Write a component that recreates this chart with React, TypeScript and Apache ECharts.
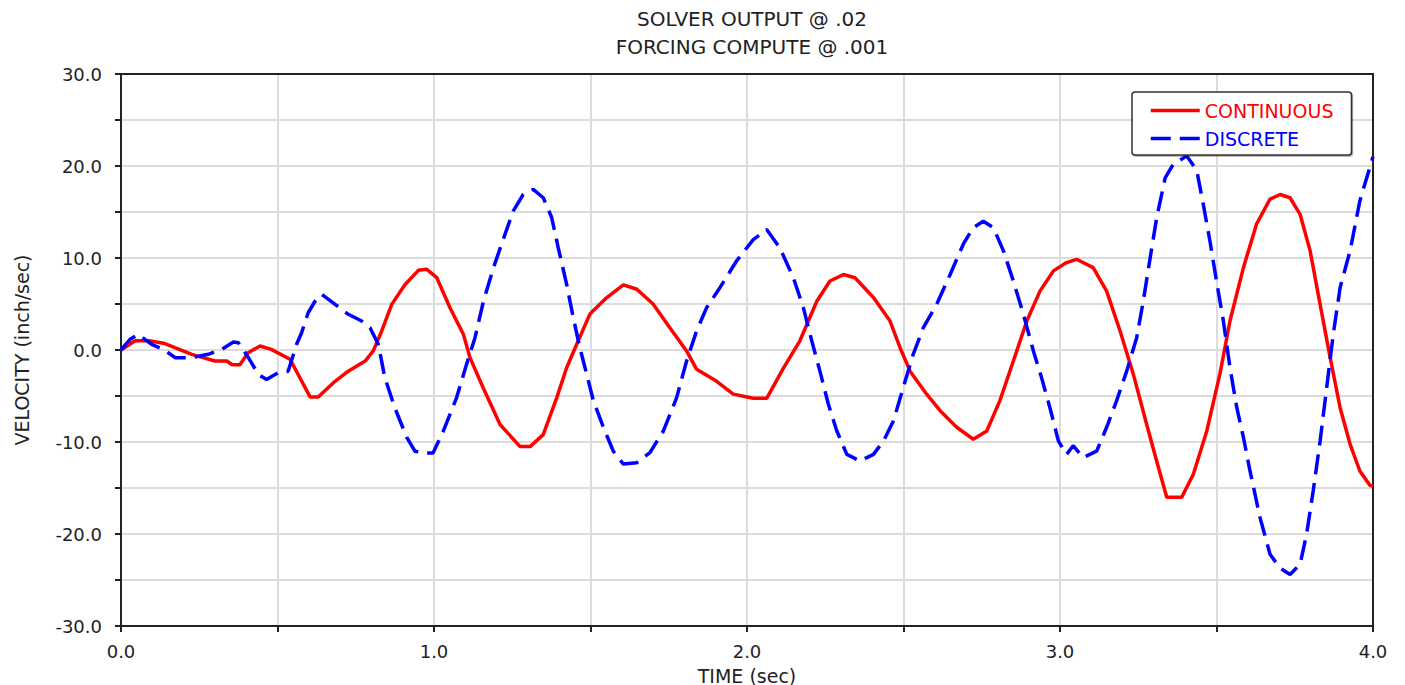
import React, { useEffect, useRef } from "react";
import * as echarts from "echarts";

const titleLines = ["SOLVER OUTPUT @ .02", "FORCING COMPUTE @ .001"];
const xName = "TIME (sec)";
const yName = "VELOCITY (inch/sec)";
const seriesNames = ["CONTINUOUS", "DISCRETE"];
const seriesColors = ["#ff0000", "#0000ff"];

// [time (sec), velocity (inch/sec)]
const continuous: number[][] = [
  [0, 0], [0.045, 1.0], [0.09, 1.0], [0.14, 0.7], [0.226, -0.47], [0.3, -1.2],
  [0.338, -1.2], [0.355, -1.6], [0.38, -1.6], [0.406, -0.3], [0.444, 0.43],
  [0.48, 0.07], [0.54, -1.0], [0.604, -5.1], [0.63, -5.1], [0.684, -3.4],
  [0.726, -2.3], [0.78, -1.2], [0.806, -0.1], [0.833, 2.07], [0.865, 4.96],
  [0.907, 7.1], [0.95, 8.66], [0.977, 8.77], [1.009, 7.86], [1.051, 4.6],
  [1.094, 1.7], [1.115, -0.83], [1.157, -4.1], [1.211, -8.1], [1.275, -10.5],
  [1.307, -10.5], [1.349, -9.2], [1.392, -5.2], [1.424, -1.9], [1.456, 0.62],
  [1.498, 3.9], [1.552, 5.7], [1.605, 7.07], [1.648, 6.6], [1.7, 5.0],
  [1.754, 2.4], [1.807, -0.1], [1.839, -2.1], [1.903, -3.4], [1.956, -4.8],
  [2.02, -5.25], [2.063, -5.25], [2.116, -2.0], [2.169, 1.0], [2.223, 5.3],
  [2.265, 7.5], [2.308, 8.2], [2.345, 7.86], [2.404, 5.7], [2.457, 3.15],
  [2.489, 0.25], [2.521, -2.3], [2.574, -4.8], [2.617, -6.6], [2.67, -8.4],
  [2.723, -9.7], [2.766, -8.8], [2.808, -5.5], [2.851, -1.2], [2.894, 3.15],
  [2.936, 6.4], [2.979, 8.6], [3.021, 9.5], [3.053, 9.86], [3.106, 8.95],
  [3.149, 6.4], [3.192, 2.07], [3.234, -2.6], [3.277, -8.1], [3.309, -12.1],
  [3.341, -16.0], [3.389, -16.0], [3.426, -13.5], [3.469, -8.8], [3.511, -2.6],
  [3.543, 3.15], [3.586, 8.95], [3.628, 13.7], [3.671, 16.4], [3.703, 16.9],
  [3.735, 16.55], [3.767, 14.75], [3.799, 10.8], [3.831, 4.96], [3.863, -0.8],
  [3.895, -6.3], [3.927, -10.25], [3.958, -13.15], [3.99, -14.7], [4.0, -14.8],
];

const discrete: number[][] = [
  [0, 0], [0.029, 1.16], [0.055, 1.7], [0.098, 0.62], [0.135, 0.07],
  [0.173, -0.83], [0.226, -0.83], [0.279, -0.47], [0.322, 0.07], [0.359, 0.87],
  [0.375, 0.8], [0.407, -0.83], [0.439, -2.65], [0.465, -3.2], [0.503, -2.46],
  [0.534, -2.3], [0.561, 0.62], [0.577, 1.88], [0.598, 4.05], [0.62, 5.3],
  [0.641, 6.05], [0.684, 4.96], [0.726, 3.88], [0.769, 3.15], [0.796, 2.4],
  [0.822, 0.62], [0.843, -3.0], [0.875, -6.3], [0.913, -9.5], [0.939, -11.0],
  [0.97, -11.2], [0.997, -11.2], [1.03, -8.8], [1.072, -5.2], [1.104, -1.56],
  [1.131, 1.34], [1.158, 5.3], [1.19, 8.95], [1.221, 12.0], [1.253, 15.1],
  [1.285, 16.9], [1.317, 17.45], [1.349, 16.55], [1.376, 14.4], [1.397, 11.1],
  [1.424, 7.1], [1.445, 3.5], [1.466, 0.25], [1.488, -2.65], [1.509, -5.5],
  [1.541, -8.4], [1.573, -11.0], [1.605, -12.4], [1.648, -12.25], [1.69, -11.15],
  [1.733, -8.8], [1.775, -5.2], [1.807, -1.2], [1.839, 2.07], [1.871, 4.6],
  [1.914, 6.8], [1.967, 9.7], [2.02, 12.0], [2.063, 13.1], [2.105, 11.1],
  [2.148, 7.86], [2.18, 4.6], [2.207, 0.98], [2.233, -2.3], [2.26, -5.9],
  [2.287, -8.8], [2.319, -11.35], [2.361, -12.07], [2.404, -11.35], [2.436, -9.9],
  [2.468, -7.7], [2.499, -4.1], [2.531, -0.47], [2.563, 2.4], [2.606, 4.96],
  [2.649, 8.2], [2.691, 11.5], [2.723, 13.3], [2.755, 14.0], [2.787, 13.3],
  [2.819, 10.8], [2.851, 7.5], [2.883, 3.88], [2.915, -0.1], [2.941, -3.0],
  [2.968, -6.3], [2.995, -9.9], [3.021, -11.35], [3.042, -10.4], [3.074, -11.7],
  [3.117, -11.0], [3.149, -8.4], [3.181, -5.5], [3.213, -2.3], [3.245, 1.34],
  [3.266, 5.3], [3.288, 10.0], [3.309, 14.4], [3.336, 18.7], [3.362, 20.2],
  [3.405, 21.1], [3.437, 19.5], [3.458, 15.8], [3.479, 11.85], [3.5, 7.5],
  [3.522, 3.15], [3.543, -1.9], [3.565, -6.3], [3.586, -9.5], [3.607, -13.15],
  [3.639, -18.2], [3.671, -22.2], [3.703, -23.7], [3.735, -24.4], [3.767, -23.3],
  [3.788, -20.0], [3.809, -15.3], [3.831, -9.9], [3.852, -4.1], [3.873, 1.7],
  [3.895, 6.8], [3.927, 10.8], [3.958, 16.2], [4.0, 21.0],
];

const X_MIN = 0, X_MAX = 4, X_STEP = 0.5;
const Y_MIN = -30, Y_MAX = 30, Y_STEP = 5;

const FONT = "DejaVu Sans";
const AXIS_COLOR = "#222";
const GRID_COLOR = "#dcdcdc";
const LINE_W = 3.5;

export default function App() {
  const ref = useRef<HTMLDivElement>(null);

  useEffect(() => {
    document.body.style.margin = "0";
    if (!ref.current) return;
    const chart = echarts.init(ref.current, null, { renderer: "svg" });

    const frameAxis = {
      axisLine: { show: true, onZero: false, lineStyle: { color: AXIS_COLOR, width: 2 } },
      axisTick: { show: false },
      axisLabel: { show: false },
      splitLine: { show: false },
    };

    chart.setOption({
      animation: false,
      backgroundColor: "#ffffff",
      title: {
        text: titleLines.join("\n"),
        left: 747,
        top: 0,
        textAlign: "center",
        textStyle: {
          fontFamily: FONT,
          fontSize: 20,
          fontWeight: "normal",
          color: "#222",
          lineHeight: 28,
        },
      },
      legend: {
        orient: "vertical",
        left: 1132,
        top: 92,
        padding: [9, 18, 7, 17],
        itemWidth: 49,
        itemHeight: 14,
        itemGap: 9,
        backgroundColor: "#ffffff",
        borderColor: "#333",
        borderWidth: 1.5,
        borderRadius: 3,
        shadowColor: "rgba(0,0,0,0.35)",
        shadowOffsetX: 1,
        shadowOffsetY: 1,
        shadowBlur: 1,
        selectedMode: false,
        itemStyle: { color: "transparent", borderColor: "transparent", borderWidth: 0, opacity: 0 },
        lineStyle: { width: LINE_W },
        textStyle: { fontFamily: FONT, fontSize: 19 },
        data: seriesNames.map((n, i) => ({ name: n, textStyle: { color: seriesColors[i] } })),
      },
      grid: { left: 121, right: 32, top: 74, bottom: 59, containLabel: false, outerBoundsMode: "none" },
      xAxis: [
        {
          type: "value",
          min: X_MIN,
          max: X_MAX,
          interval: X_STEP,
          name: xName,
          nameLocation: "middle",
          nameGap: 40,
          nameTextStyle: { fontFamily: FONT, fontSize: 19, color: "#222" },
          axisLine: { show: true, onZero: false, lineStyle: { color: AXIS_COLOR, width: 2 } },
          axisTick: { show: true, inside: false, length: 6, lineStyle: { color: AXIS_COLOR, width: 2 } },
          axisLabel: {
            fontFamily: FONT,
            fontSize: 18,
            color: "#222",
            margin: 16,
            formatter: (v: number) => (Number.isInteger(v) ? v.toFixed(1) : ""),
          },
          splitLine: { show: true, lineStyle: { color: GRID_COLOR, width: 2 } },
        },
        { type: "value", position: "top", min: X_MIN, max: X_MAX, ...frameAxis },
      ],
      yAxis: [
        {
          type: "value",
          min: Y_MIN,
          max: Y_MAX,
          interval: Y_STEP,
          name: yName,
          nameLocation: "middle",
          nameGap: 90,
          nameTextStyle: { fontFamily: FONT, fontSize: 19, color: "#222" },
          axisLine: { show: true, onZero: false, lineStyle: { color: AXIS_COLOR, width: 2 } },
          axisTick: { show: true, inside: false, length: 6, lineStyle: { color: AXIS_COLOR, width: 2 } },
          axisLabel: {
            fontFamily: FONT,
            fontSize: 18,
            color: "#222",
            margin: 19,
            formatter: (v: number) => (v % 10 === 0 ? v.toFixed(1) : ""),
          },
          splitLine: { show: true, lineStyle: { color: GRID_COLOR, width: 2 } },
        },
        { type: "value", position: "right", min: Y_MIN, max: Y_MAX, ...frameAxis },
      ],
      series: [
        {
          name: seriesNames[0],
          type: "line",
          data: continuous,
          showSymbol: false,
          symbol: "none",
          silent: true,
          itemStyle: { color: seriesColors[0] },
          lineStyle: { color: seriesColors[0], width: LINE_W },
        },
        {
          name: seriesNames[1],
          type: "line",
          data: discrete,
          showSymbol: false,
          symbol: "none",
          silent: true,
          itemStyle: { color: seriesColors[1] },
          lineStyle: { color: seriesColors[1], width: LINE_W, type: [20, 9] },
        },
      ],
    });

    return () => chart.dispose();
  }, []);

  return <div ref={ref} style={{ width: 1405, height: 685 }} />;
}
